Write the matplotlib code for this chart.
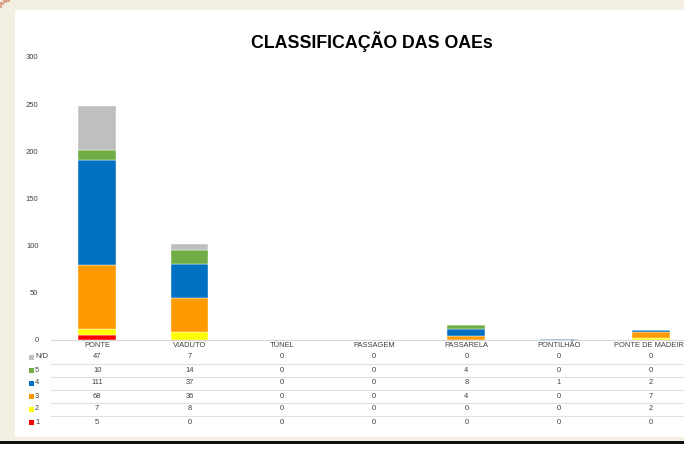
import matplotlib
matplotlib.use("Agg")
import matplotlib.pyplot as plt
from matplotlib.patches import Rectangle
from matplotlib.lines import Line2D

categories = ["PONTE", "VIADUTO", "TÚNEL", "PASSAGEM", "PASSARELA", "PONTILHÃO", "PONTE DE MADEIRA"]
series_names = ["1", "2", "3", "4", "5", "N/D"]
s1 = [5, 0, 0, 0, 0, 0, 0]
s2 = [7, 8, 0, 0, 0, 0, 2]
s3 = [68, 36, 0, 0, 4, 0, 7]
s4 = [111, 37, 0, 0, 8, 1, 2]
s5 = [10, 14, 0, 0, 4, 0, 0]
snd = [47, 7, 0, 0, 0, 0, 0]
series_values = [s1, s2, s3, s4, s5, snd]
colors = ["#FF0000", "#FFFF00", "#FF9900", "#0070C0", "#70AD47", "#BFBFBF"]
yticks = [0, 50, 100, 150, 200, 250, 300]
title = "CLASSIFICAÇÃO DAS OAEs"

W, H = 684, 450
fig = plt.figure(figsize=(W / 100, H / 100), dpi=100)
fig.patch.set_facecolor("#F3EFE3")
plt.rcParams["font.family"] = ["Liberation Sans", "DejaVu Sans"]

def fx(px):
    return px / W

def fy(py):
    return 1 - py / H

# white panel
fig.add_artist(Rectangle((fx(15), fy(437)), fx(684 - 15) + 0.01, (437 - 10) / H,
                         transform=fig.transFigure, facecolor="white", edgecolor="none", zorder=0))
# bottom black line and white strip
fig.add_artist(Rectangle((0, 0), 1, 6 / H, transform=fig.transFigure,
                         facecolor="white", edgecolor="none", zorder=0))
fig.add_artist(Rectangle((0, fy(444)), 1, 3 / H, transform=fig.transFigure,
                         facecolor="#111111", edgecolor="none", zorder=1))
# small decoration at top left
for (x, y, w, h) in [(0, 2, 4, 3), (3, 0, 4, 3), (7, 0, 3, 2), (0, 5, 2, 3)]:
    fig.add_artist(Rectangle((fx(x), fy(y + h)), w / W, h / H, transform=fig.transFigure,
                             facecolor="#DBA58C", edgecolor="none", zorder=1))

# axes
x0, x1 = 51, 51 + 92.3 * 7
ytop, ybot = 57, 340
ax = fig.add_axes([fx(x0), fy(ybot), (x1 - x0) / W, (ybot - ytop) / H])
ax.set_facecolor("none")
n = len(categories)
ax.set_xlim(-0.5, n - 0.5)
ax.set_ylim(0, 300)
xs = list(range(n))
bottom = [0] * n
for vals, col in zip(series_values, colors):
    ax.bar(xs, vals, width=0.41, bottom=bottom, color=col, edgecolor="white",
           linewidth=0.3, zorder=2)
    bottom = [b + v for b, v in zip(bottom, vals)]
for s in ["top", "right", "left"]:
    ax.spines[s].set_visible(False)
ax.spines["bottom"].set_color("#D9D9D9")
ax.spines["bottom"].set_linewidth(0.8)
ax.set_yticks(yticks)
ax.set_yticklabels([str(t) for t in yticks], fontsize=5.5, color="#404040")
ax.tick_params(axis="y", length=0, pad=9)
ax.set_xticks(xs)
ax.set_xticklabels([])
ax.tick_params(axis="x", length=0)

fig.text(fx(372), fy(42), title, ha="center", va="center", fontsize=12.8,
         fontweight="bold", color="#000000")

# data table
col_center = [x0 + 92.3 * (i + 0.5) for i in range(n)]
for i, c in enumerate(categories):
    fig.text(fx(col_center[i]), fy(345.5), c, ha="center", va="center",
             fontsize=5.4, color="#404040")
row_y0 = 357
row_h = 13
rows = list(reversed(list(zip(series_names, series_values, colors))))
for r, (name, vals, col) in enumerate(rows):
    y = row_y0 + r * row_h
    fig.add_artist(Rectangle((fx(29), fy(y + 2.5)), 4.5 / W, 4.5 / H,
                             transform=fig.transFigure, facecolor=col, edgecolor="none"))
    fig.text(fx(35), fy(y), name, ha="left", va="center", fontsize=5.4, color="#404040")
    for i, v in enumerate(vals):
        fig.text(fx(col_center[i]), fy(y), str(v), ha="center", va="center",
                 fontsize=5.4, color="#404040")
    if r < len(rows) - 1:
        ly = y + row_h / 2
        fig.add_artist(Line2D([fx(x0), 1], [fy(ly), fy(ly)], transform=fig.transFigure,
                              color="#DDE1E6", linewidth=0.8))

fig.savefig("out.png", dpi=100, facecolor=fig.get_facecolor())
